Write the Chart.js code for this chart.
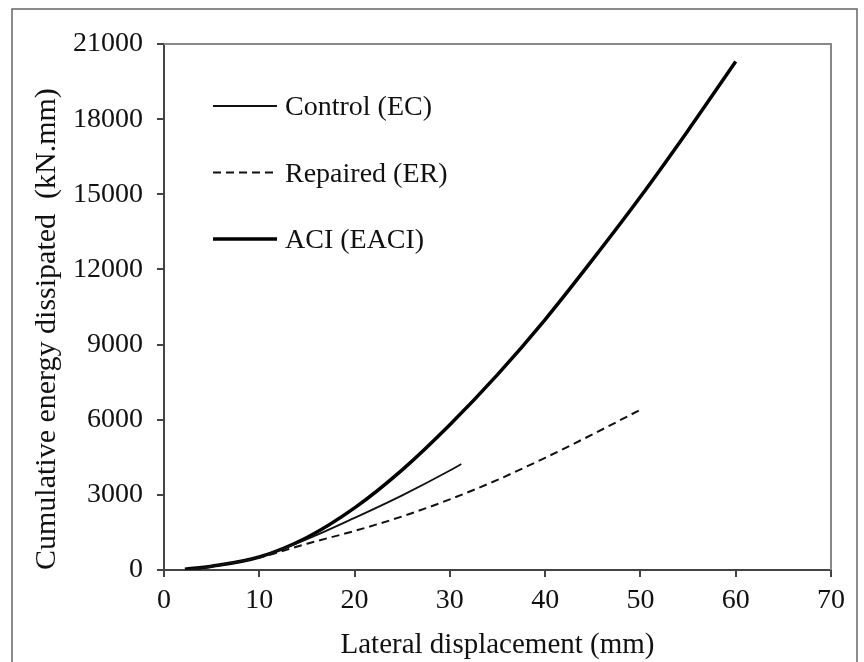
<!DOCTYPE html>
<html lang="en">
<head>
    <meta charset="UTF-8">
    <title>Cumulative energy dissipated</title>
    <script src="https://cdn.jsdelivr.net/npm/chart.js"></script>
    <style>
        body {
            margin: 0;
            background: #fff;
        }

        .chart-box {
            width: 864px;
            height: 662px;
        }
    </style>
</head>
<body>
    <div class="chart-box">
        <canvas id="energy-chart"></canvas>
    </div>

    <script>
        // Values (displacement in mm, energy in kN.mm)
        const controlX = [2.2, 5, 10, 15, 20, 25, 30, 31.2];
        const controlY = [20, 140, 520, 1230, 2080, 2980, 3970, 4230];

        const repairedX = [3, 5, 10, 15, 20, 25, 30, 35, 40, 45, 50];
        const repairedY = [10, 130, 500, 1050, 1560, 2140, 2820, 3600, 4480, 5420, 6400];

        const aciX = [2.2, 5, 10, 15, 20, 25, 30, 35, 40, 45, 50, 55, 60];
        const aciY = [30, 150, 520, 1300, 2480, 4000, 5800, 7800, 10000, 12400, 14900, 17550, 20300];

        const xTicks = [0, 10, 20, 30, 40, 50, 60, 70];
        const yTicks = [0, 3000, 6000, 9000, 12000, 15000, 18000, 21000];

        const serif = "'Liberation Serif', 'Times New Roman', serif";

        function toPoints(xs, ys) {
            return xs.map((x, i) => ({ x: x, y: ys[i] }));
        }

        // Frame around the figure, closed plot box and the in-plot legend
        const figurePlugin = {
            id: 'figure',
            beforeDraw(chart) {
                const c = chart.ctx;
                c.save();
                c.strokeStyle = '#666';
                c.lineWidth = 1.5;
                c.strokeRect(12, 9, 845, 700);
                c.restore();
            },
            afterDatasetsDraw(chart) {
                const c = chart.ctx;
                const area = chart.chartArea;
                c.save();
                c.strokeStyle = '#888';
                c.lineWidth = 2;
                c.beginPath();
                c.moveTo(area.left, area.top);
                c.lineTo(area.right, area.top);
                c.lineTo(area.right, area.bottom);
                c.stroke();

                // legend
                const x0 = area.left + 49;
                const y0 = area.top + 62;
                c.font = '28px ' + serif;
                c.textBaseline = 'middle';
                chart.data.datasets.forEach((ds, i) => {
                    const y = y0 + i * 66.5;
                    c.strokeStyle = ds.borderColor;
                    c.lineWidth = ds.borderWidth;
                    c.setLineDash(ds.borderDash || []);
                    c.beginPath();
                    c.moveTo(x0, y);
                    c.lineTo(x0 + 64, y);
                    c.stroke();
                    c.setLineDash([]);
                    c.fillStyle = '#111';
                    c.fillText(ds.label, x0 + 72, y + 2);
                });
                c.restore();
            }
        };

        const ctx = document.getElementById('energy-chart').getContext('2d');
        new Chart(ctx, {
            type: 'line',
            data: {
                datasets: [{
                    label: 'Control (EC)',
                    data: toPoints(controlX, controlY),
                    borderColor: '#111',
                    borderWidth: 1.8,
                    pointRadius: 0,
                    tension: 0.4,
                    cubicInterpolationMode: 'monotone'
                }, {
                    label: 'Repaired (ER)',
                    data: toPoints(repairedX, repairedY),
                    borderColor: '#111',
                    borderWidth: 2,
                    borderDash: [8, 5],
                    pointRadius: 0,
                    tension: 0.4,
                    cubicInterpolationMode: 'monotone'
                }, {
                    label: 'ACI (EACI)',
                    data: toPoints(aciX, aciY),
                    borderColor: '#000',
                    borderWidth: 3.5,
                    pointRadius: 0,
                    tension: 0.4,
                    cubicInterpolationMode: 'monotone'
                }]
            },
            options: {
                responsive: true,
                maintainAspectRatio: false,
                animation: false,
                layout: {
                    padding: { left: 24, right: 33, top: 44, bottom: 0 }
                },
                plugins: {
                    legend: { display: false },
                    tooltip: { enabled: false }
                },
                scales: {
                    x: {
                        type: 'linear',
                        min: 0,
                        max: 70,
                        afterBuildTicks(scale) {
                            scale.ticks = xTicks.map(v => ({ value: v }));
                        },
                        afterFit(scale) {
                            scale.height = 92;
                        },
                        border: { display: true, color: '#444', width: 2 },
                        grid: {
                            drawOnChartArea: false,
                            drawTicks: true,
                            tickLength: 7,
                            color: '#444',
                            lineWidth: 2
                        },
                        ticks: {
                            color: '#111',
                            padding: 7,
                            maxRotation: 0,
                            callback: v => String(v),
                            font: { family: serif, size: 28 }
                        },
                        title: {
                            display: true,
                            text: 'Lateral displacement (mm)',
                            color: '#111',
                            padding: { top: 0, bottom: 1 },
                            font: { family: serif, size: 29, lineHeight: 1.1 }
                        }
                    },
                    y: {
                        min: 0,
                        max: 21000,
                        afterBuildTicks(scale) {
                            scale.ticks = yTicks.map(v => ({ value: v }));
                        },
                        afterFit(scale) {
                            scale.width = 140;
                        },
                        border: { display: true, color: '#444', width: 2 },
                        grid: {
                            drawOnChartArea: false,
                            drawTicks: true,
                            tickLength: 7,
                            color: '#444',
                            lineWidth: 2
                        },
                        ticks: {
                            color: '#111',
                            padding: 14,
                            callback: v => String(v),
                            font: { family: serif, size: 28 }
                        },
                        title: {
                            display: true,
                            align: 'start',
                            text: 'Cumulative energy dissipated  (kN.mm)',
                            color: '#111',
                            padding: { top: 5, bottom: 0 },
                            font: { family: serif, size: 30, lineHeight: 1.2 }
                        }
                    }
                }
            },
            plugins: [figurePlugin]
        });
    </script>
</body>
</html>
